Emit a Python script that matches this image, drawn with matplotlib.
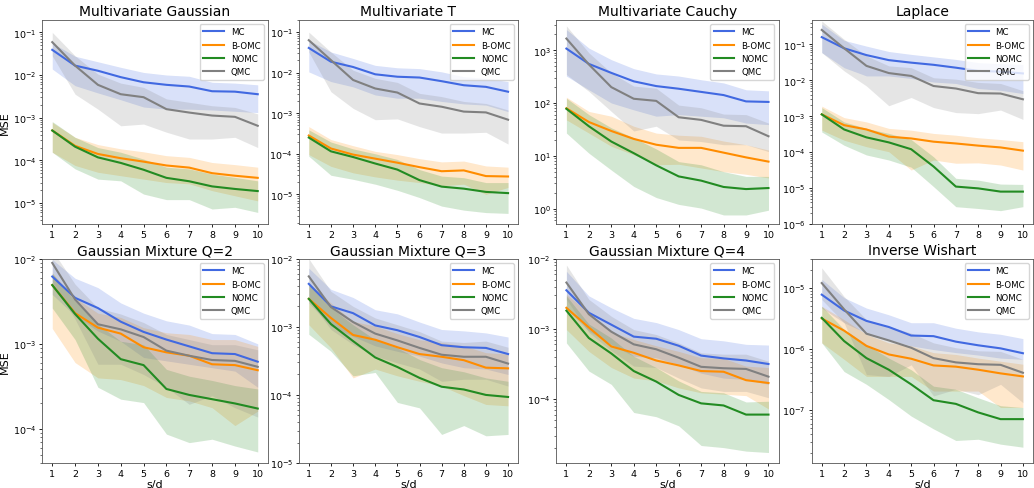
import numpy as np
import matplotlib
matplotlib.use('Agg')
import matplotlib.pyplot as plt

# values, stored as log10(MSE); rows: mean, lower, upper
s_d = [1, 2, 3, 4, 5, 6, 7, 8, 9, 10]
methods = ['MC', 'B-OMC', 'NOMC', 'QMC']
titles = ['Multivariate Gaussian', 'Multivariate T', 'Multivariate Cauchy', 'Laplace',
          'Gaussian Mixture Q=2', 'Gaussian Mixture Q=3', 'Gaussian Mixture Q=4', 'Inverse Wishart']

# Multivariate Gaussian
mg_mc = [[-1.41, -1.78, -1.90, -2.05, -2.17, -2.23, -2.27, -2.38, -2.39, -2.45],
         [-1.86, -2.25, -2.42, -2.58, -2.75, -2.80, -2.80, -2.82, -2.85, -2.88],
         [-1.25, -1.56, -1.69, -1.82, -1.94, -2.00, -2.03, -2.17, -2.19, -2.23]]
mg_bomc = [[-3.30, -3.66, -3.85, -3.95, -4.03, -4.12, -4.17, -4.30, -4.36, -4.41],
           [-3.81, -4.12, -4.28, -4.36, -4.44, -4.52, -4.55, -4.71, -4.83, -4.95],
           [-3.11, -3.46, -3.63, -3.73, -3.80, -3.89, -3.93, -4.05, -4.10, -4.16]]
mg_nomc = [[-3.30, -3.68, -3.93, -4.06, -4.22, -4.41, -4.49, -4.61, -4.67, -4.72],
           [-3.81, -4.20, -4.44, -4.48, -4.79, -4.92, -4.92, -5.14, -5.10, -5.22],
           [-3.09, -3.46, -3.70, -3.81, -3.97, -4.16, -4.20, -4.32, -4.40, -4.48]]
mg_qmc = [[-1.23, -1.78, -2.23, -2.45, -2.52, -2.80, -2.88, -2.95, -2.98, -3.19],
          [-1.55, -2.45, -2.80, -3.19, -3.15, -3.34, -3.50, -3.50, -3.46, -3.70],
          [-1.00, -1.55, -1.98, -2.19, -2.29, -2.56, -2.64, -2.72, -2.76, -2.91]]

# Multivariate T
mt_mc = [[-1.39, -1.73, -1.86, -2.04, -2.10, -2.12, -2.21, -2.31, -2.35, -2.47],
         [-1.98, -2.22, -2.35, -2.55, -2.63, -2.63, -2.71, -2.77, -2.80, -2.96],
         [-1.20, -1.49, -1.65, -1.82, -1.88, -1.90, -1.98, -2.10, -2.14, -2.22]]
mt_bomc = [[-3.55, -3.87, -4.02, -4.12, -4.22, -4.33, -4.43, -4.41, -4.55, -4.56],
           [-4.02, -4.31, -4.47, -4.57, -4.65, -4.71, -4.79, -4.75, -5.00, -4.83],
           [-3.33, -3.65, -3.80, -3.94, -4.02, -4.12, -4.20, -4.18, -4.30, -4.33]]
mt_nomc = [[-3.60, -3.94, -4.08, -4.24, -4.39, -4.65, -4.81, -4.86, -4.94, -4.97],
           [-4.06, -4.53, -4.63, -4.75, -4.90, -5.08, -5.29, -5.39, -5.45, -5.47],
           [-3.41, -3.71, -3.88, -4.00, -4.14, -4.39, -4.55, -4.59, -4.71, -4.71]]
mt_qmc = [[-1.20, -1.69, -2.18, -2.39, -2.49, -2.76, -2.84, -2.96, -2.98, -3.16],
          [-1.49, -2.47, -2.88, -3.16, -3.14, -3.33, -3.49, -3.49, -3.47, -3.76],
          [-1.00, -1.49, -1.94, -2.14, -2.24, -2.51, -2.59, -2.71, -2.76, -2.92]]

# Multivariate Cauchy
mcy_mc = [[3.03, 2.74, 2.57, 2.41, 2.32, 2.27, 2.21, 2.15, 2.03, 2.02],
          [2.51, 2.25, 2.00, 1.87, 1.75, 1.78, 1.75, 1.72, 1.62, 1.59],
          [3.39, 3.04, 2.82, 2.65, 2.55, 2.51, 2.44, 2.38, 2.25, 2.23]]
mcy_bomc = [[1.90, 1.64, 1.47, 1.32, 1.21, 1.15, 1.15, 1.06, 0.97, 0.89],
            [1.68, 1.43, 1.18, 1.02, 0.83, 0.84, 0.77, 0.70, 0.65, 0.58],
            [2.11, 1.84, 1.75, 1.56, 1.43, 1.39, 1.37, 1.28, 1.21, 1.11]]
mcy_nomc = [[1.89, 1.56, 1.27, 1.05, 0.82, 0.61, 0.53, 0.41, 0.37, 0.39],
            [1.43, 1.05, 0.73, 0.42, 0.21, 0.08, 0.01, -0.12, -0.12, -0.03],
            [2.09, 1.78, 1.53, 1.34, 1.13, 0.89, 0.83, 0.70, 0.61, 0.61]]
mcy_qmc = [[3.22, 2.73, 2.30, 2.08, 2.04, 1.73, 1.68, 1.57, 1.56, 1.37],
           [2.54, 2.22, 1.84, 1.47, 1.56, 1.30, 1.27, 1.21, 1.21, 1.08],
           [3.46, 2.95, 2.57, 2.32, 2.28, 1.96, 1.91, 1.79, 1.78, 1.62]]

# Laplace
lp_mc = [[-0.80, -1.11, -1.30, -1.44, -1.51, -1.57, -1.65, -1.74, -1.76, -1.81],
         [-1.23, -1.65, -1.88, -1.88, -1.95, -2.05, -2.09, -2.23, -2.28, -2.37],
         [-0.44, -0.89, -1.05, -1.20, -1.28, -1.35, -1.42, -1.51, -1.54, -1.56]]
lp_bomc = [[-2.95, -3.25, -3.37, -3.57, -3.62, -3.71, -3.76, -3.82, -3.87, -3.96],
           [-3.39, -3.67, -3.85, -3.99, -4.50, -4.22, -4.31, -4.30, -4.36, -4.50],
           [-2.72, -3.04, -3.16, -3.34, -3.39, -3.48, -3.53, -3.60, -3.65, -3.71]]
lp_nomc = [[-2.95, -3.37, -3.59, -3.73, -3.92, -4.40, -4.96, -5.01, -5.10, -5.10],
           [-3.44, -3.81, -4.08, -4.22, -4.42, -4.96, -5.52, -5.57, -5.63, -5.52],
           [-2.76, -3.16, -3.34, -3.48, -3.65, -4.13, -4.73, -4.78, -4.89, -4.90]]
lp_qmc = [[-0.60, -1.11, -1.60, -1.80, -1.88, -2.16, -2.23, -2.36, -2.37, -2.53],
          [-1.23, -1.74, -2.16, -2.71, -2.48, -2.76, -2.90, -2.93, -2.83, -3.09],
          [-0.35, -0.86, -1.32, -1.60, -1.65, -1.93, -1.97, -2.06, -2.09, -2.29]]

# Gaussian Mixture Q=2
gm2_mc = [[-2.21, -2.46, -2.58, -2.74, -2.86, -2.95, -3.03, -3.11, -3.12, -3.21],
          [-2.42, -2.67, -2.85, -2.97, -3.16, -3.20, -3.24, -3.28, -3.32, -3.51],
          [-2.01, -2.23, -2.34, -2.52, -2.64, -2.73, -2.78, -2.88, -2.89, -3.00]]
gm2_bomc = [[-2.31, -2.64, -2.81, -2.88, -3.04, -3.10, -3.14, -3.24, -3.25, -3.31],
            [-2.82, -3.22, -3.40, -3.42, -3.49, -3.63, -3.67, -3.75, -3.96, -3.79],
            [-2.17, -2.46, -2.64, -2.69, -2.81, -2.87, -2.89, -2.95, -2.95, -3.03]]
gm2_nomc = [[-2.31, -2.65, -2.94, -3.18, -3.25, -3.53, -3.60, -3.65, -3.70, -3.76],
            [-2.58, -2.95, -3.51, -3.65, -3.69, -4.06, -4.16, -4.12, -4.20, -4.27],
            [-2.17, -2.50, -2.77, -2.97, -3.01, -3.30, -3.38, -3.43, -3.49, -3.53]]
gm2_qmc = [[-2.05, -2.48, -2.77, -2.83, -2.92, -3.08, -3.14, -3.19, -3.20, -3.27],
           [-2.27, -2.71, -3.24, -3.24, -3.36, -3.51, -3.71, -3.61, -3.75, -3.86],
           [-1.90, -2.30, -2.58, -2.65, -2.75, -2.89, -2.95, -3.01, -3.01, -3.07]]

# Gaussian Mixture Q=3
gm3_mc = [[-2.37, -2.70, -2.80, -2.98, -3.05, -3.15, -3.27, -3.30, -3.31, -3.40],
          [-2.65, -2.99, -3.14, -3.28, -3.36, -3.43, -3.53, -3.60, -3.62, -3.70],
          [-2.14, -2.45, -2.57, -2.75, -2.81, -2.93, -3.04, -3.06, -3.09, -3.15]]
gm3_bomc = [[-2.59, -2.87, -3.12, -3.19, -3.30, -3.40, -3.44, -3.49, -3.60, -3.61],
            [-2.97, -3.31, -3.75, -3.62, -3.72, -3.80, -3.87, -4.01, -4.14, -4.16],
            [-2.36, -2.65, -2.92, -2.99, -3.10, -3.19, -3.23, -3.28, -3.38, -3.40]]
gm3_nomc = [[-2.59, -2.96, -3.21, -3.45, -3.59, -3.75, -3.88, -3.92, -4.00, -4.03],
            [-3.11, -3.36, -3.72, -3.67, -4.11, -4.19, -4.58, -4.45, -4.60, -4.58],
            [-2.38, -2.72, -2.97, -3.19, -3.31, -3.48, -3.60, -3.66, -3.75, -3.80]]
gm3_qmc = [[-2.26, -2.71, -2.93, -3.10, -3.20, -3.31, -3.41, -3.44, -3.44, -3.54],
           [-2.60, -3.04, -3.26, -3.43, -3.53, -3.62, -3.80, -3.77, -3.77, -3.87],
           [-2.00, -2.48, -2.70, -2.87, -2.97, -3.07, -3.21, -3.23, -3.21, -3.30]]

# Gaussian Mixture Q=4
gm4_mc = [[-2.45, -2.77, -2.94, -3.11, -3.14, -3.24, -3.38, -3.42, -3.45, -3.50],
          [-2.72, -3.03, -3.22, -3.39, -3.41, -3.51, -3.63, -3.70, -3.72, -3.79],
          [-2.18, -2.53, -2.70, -2.85, -2.91, -3.01, -3.14, -3.17, -3.22, -3.23]]
gm4_bomc = [[-2.70, -2.98, -3.25, -3.34, -3.45, -3.52, -3.60, -3.61, -3.73, -3.77],
            [-3.01, -3.32, -3.55, -3.70, -3.74, -3.84, -3.91, -3.93, -3.95, -4.14],
            [-2.51, -2.77, -3.05, -3.15, -3.24, -3.32, -3.41, -3.42, -3.53, -3.55]]
gm4_nomc = [[-2.74, -3.13, -3.35, -3.60, -3.75, -3.94, -4.06, -4.09, -4.22, -4.22],
            [-3.20, -3.60, -3.79, -4.19, -4.25, -4.38, -4.66, -4.69, -4.74, -4.76],
            [-2.53, -2.93, -3.13, -3.39, -3.55, -3.74, -3.89, -3.91, -4.04, -4.03]]
gm4_qmc = [[-2.34, -2.79, -3.04, -3.22, -3.29, -3.41, -3.54, -3.56, -3.57, -3.68],
           [-2.58, -3.05, -3.31, -3.53, -3.55, -3.70, -3.84, -3.89, -3.89, -3.98],
           [-2.09, -2.58, -2.82, -3.01, -3.08, -3.20, -3.34, -3.36, -3.36, -3.46]]

# Inverse Wishart
iw_mc = [[-5.11, -5.37, -5.54, -5.64, -5.78, -5.79, -5.88, -5.94, -5.99, -6.07],
         [-5.33, -5.57, -5.74, -5.85, -5.95, -6.01, -6.06, -6.10, -6.15, -6.17],
         [-4.86, -5.16, -5.33, -5.44, -5.57, -5.57, -5.66, -5.72, -5.76, -5.83]]
iw_bomc = [[-5.50, -5.70, -5.95, -6.09, -6.16, -6.27, -6.29, -6.34, -6.40, -6.45],
           [-5.90, -6.17, -6.45, -6.45, -6.45, -6.69, -6.69, -6.69, -6.96, -6.96],
           [-5.30, -5.52, -5.76, -5.90, -5.95, -6.06, -6.09, -6.15, -6.20, -6.25]]
iw_nomc = [[-5.49, -5.87, -6.15, -6.34, -6.58, -6.84, -6.90, -7.04, -7.15, -7.15],
           [-5.90, -6.37, -6.58, -6.83, -7.10, -7.31, -7.50, -7.48, -7.56, -7.61],
           [-5.30, -5.68, -5.93, -6.15, -6.34, -6.61, -6.66, -6.80, -6.93, -6.96]]
iw_qmc = [[-4.92, -5.35, -5.75, -5.86, -5.98, -6.15, -6.22, -6.25, -6.26, -6.39],
          [-5.19, -5.57, -6.42, -6.45, -6.26, -6.77, -6.66, -6.75, -6.58, -6.88],
          [-4.67, -5.14, -5.52, -5.63, -5.74, -5.90, -5.98, -6.03, -6.04, -6.17]]

panels = [(mg_mc, mg_bomc, mg_nomc, mg_qmc),
          (mt_mc, mt_bomc, mt_nomc, mt_qmc),
          (mcy_mc, mcy_bomc, mcy_nomc, mcy_qmc),
          (lp_mc, lp_bomc, lp_nomc, lp_qmc),
          (gm2_mc, gm2_bomc, gm2_nomc, gm2_qmc),
          (gm3_mc, gm3_bomc, gm3_nomc, gm3_qmc),
          (gm4_mc, gm4_bomc, gm4_nomc, gm4_qmc),
          (iw_mc, iw_bomc, iw_nomc, iw_qmc)]

# y-limits (log10) as seen in the figure
ylims = [(-5.49, -0.70), (-5.73, -0.69), (-0.29, 3.58), (-6.0, -0.31),
         (-4.40, -2.0), (-5.0, -2.0), (-4.91, -2.0), (-7.87, -4.52)]

colors = ['#4169e1', '#ff8c00', '#228b22', 'grey']

lefts = [0.0406, 0.289, 0.538, 0.785]
widths = [0.2186, 0.212, 0.215, 0.214]
bottoms = [0.540, 0.051]
height = 0.418

fig = plt.figure(figsize=(10.34, 4.89), dpi=100)
x = np.array(s_d)

for k in range(8):
    r, c = k // 4, k % 4
    ax = fig.add_axes([lefts[c], bottoms[r], widths[c], height])
    for m in range(4):
        d = np.power(10.0, np.array(panels[k][m]))
        ax.plot(x, d[0], color=colors[m], lw=1.5, label=methods[m])
        ax.fill_between(x, d[1], d[2], color=colors[m], alpha=0.2, lw=0)
    ax.set_yscale('log')
    ax.set_ylim(10 ** ylims[k][0], 10 ** ylims[k][1])
    ax.set_xticks(s_d)
    ax.tick_params(labelsize=6.8, length=2.2, width=0.6, pad=2)
    ax.tick_params(which='minor', length=1.3, width=0.4)
    for sp in ax.spines.values():
        sp.set_linewidth(0.6)
        sp.set_color('#555555')
    ax.set_title(titles[k], fontsize=10, pad=3)
    ax.legend(loc='upper right', fontsize=6.2, handlelength=2.4,
              borderpad=0.4, labelspacing=0.5, framealpha=0.8)
    if c == 0:
        ax.set_ylabel('MSE', fontsize=8, labelpad=2)
    if r == 1:
        ax.set_xlabel('s/d', fontsize=8, labelpad=1)

plt.savefig('out.png', dpi=100)
